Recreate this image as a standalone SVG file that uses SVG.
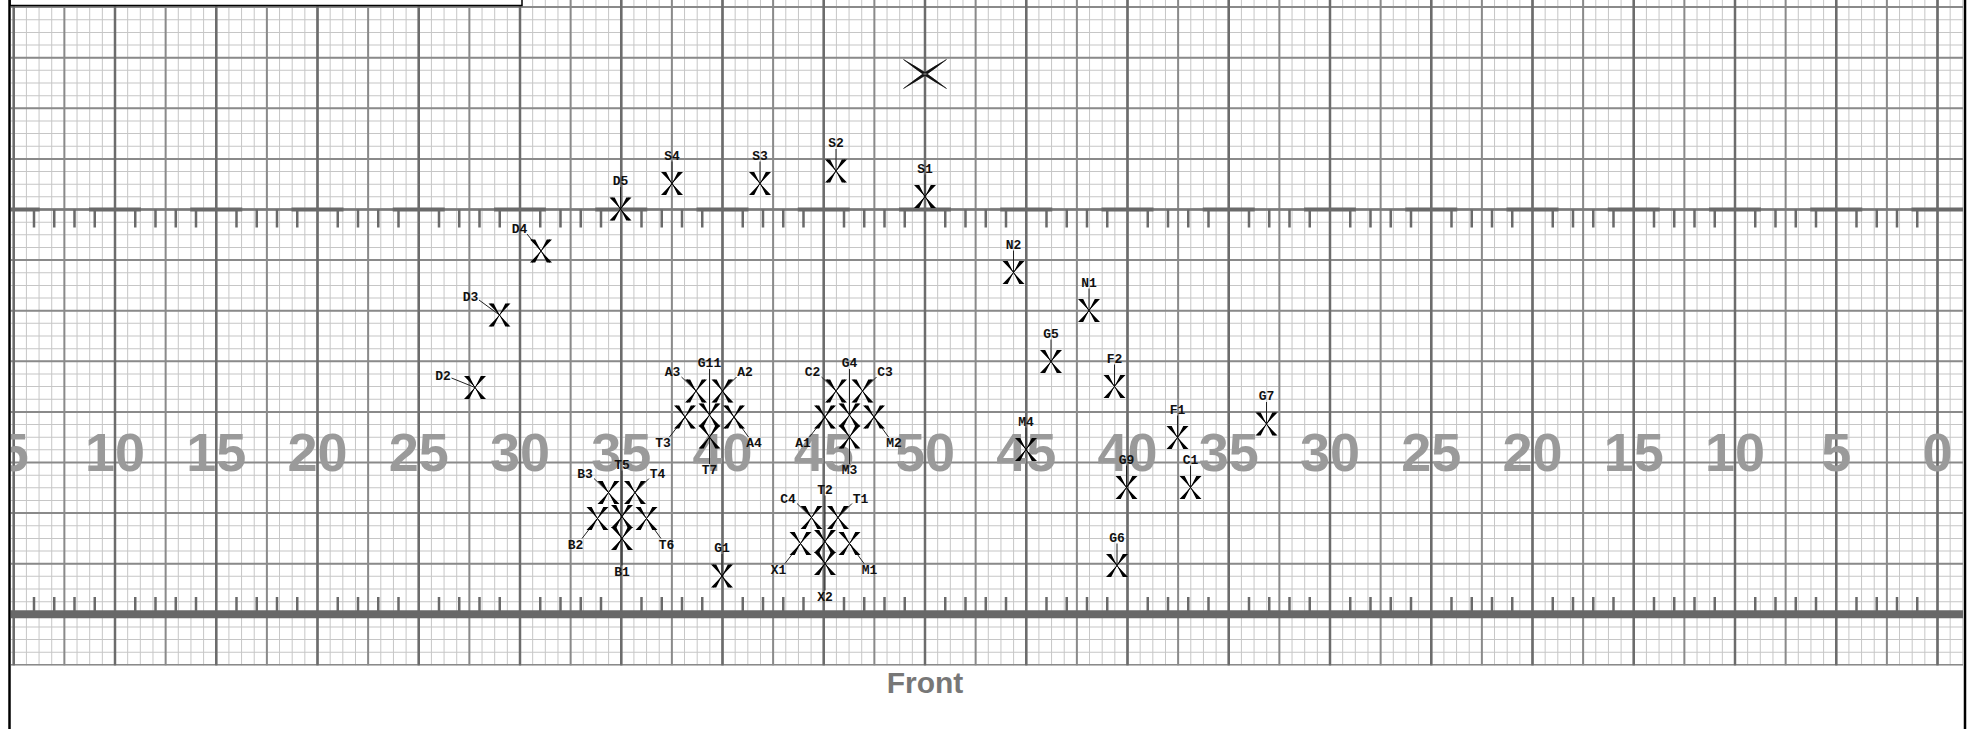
<svg xmlns="http://www.w3.org/2000/svg" xmlns:xlink="http://www.w3.org/1999/xlink" width="1973" height="729" viewBox="0 0 1973 729">
<style>
.lbl{font-family:"Liberation Mono","Courier New",monospace;font-weight:bold;font-size:13px;fill:#111;text-anchor:middle}
.yd{font-family:"Liberation Sans",Arial,sans-serif;font-weight:bold;font-size:54px;fill:#9a9a9a;text-anchor:middle}
.ld{stroke:#222;stroke-width:1;fill:none}
</style>
<defs>
<clipPath id="gc"><rect x="11" y="0" width="1952" height="665.5"/></clipPath>
<g id="xm">
<path d="M0,0L-11,-11.5L-5.8,-11.5ZM0,0L5.8,-11.5L11,-11.5ZM0,0L-11,11.5L-5.8,11.5ZM0,0L5.8,11.5L11,11.5Z" fill="#000"/>
<path d="M-8.4,-11.5L8.4,11.5M8.4,-11.5L-8.4,11.5" stroke="#000" stroke-width="1"/>
</g>
</defs>
<rect width="1973" height="729" fill="#fff"/>
<g id="field" clip-path="url(#gc)">
<line x1="13.25" y1="332.75" x2="1964" y2="332.75" stroke="#c6c6c6" stroke-width="665.5" stroke-dasharray="1 11.65625"/>
<line x1="987" y1="6.6" x2="987" y2="666" stroke="#c6c6c6" stroke-width="1952" stroke-dasharray="1 11.65"/>
<line x1="12.75" y1="332.75" x2="1964" y2="332.75" stroke="#8a8a8a" stroke-width="665.5" stroke-dasharray="2 48.625"/>
<line x1="987" y1="6.1" x2="987" y2="666" stroke="#8a8a8a" stroke-width="1952" stroke-dasharray="2 48.6"/>
<line x1="12.5" y1="332.75" x2="1964" y2="332.75" stroke="#6c6c6c" stroke-width="665.5" stroke-dasharray="2.5 98.75"/>
<line x1="11" y1="209.5" x2="1963" y2="209.5" stroke="#7a7a7a" stroke-width="2.5"/>
<line x1="-12.25" y1="209.5" x2="1963" y2="209.5" stroke="#6a6a6a" stroke-width="4" stroke-dasharray="52 49.25"/>
<line x1="32.75" y1="218.5" x2="1918.5" y2="218.5" stroke="#6a6a6a" stroke-width="18" stroke-dasharray="2.5 17.75 2.5 17.75 2.5 17.75 2.5 38"/>
<line x1="32.75" y1="605.5" x2="1918.5" y2="605.5" stroke="#6a6a6a" stroke-width="17" stroke-dasharray="2.5 17.75 2.5 17.75 2.5 17.75 2.5 38"/>
<line x1="11" y1="614.3" x2="1963" y2="614.3" stroke="#686868" stroke-width="8"/>
<g id="yardnums" class="yd">
<text x="13.75" y="471">5</text><text x="115" y="471">10</text><text x="216.25" y="471">15</text><text x="317.5" y="471">20</text><text x="418.75" y="471">25</text><text x="520" y="471">30</text><text x="621.25" y="471">35</text><text x="722.5" y="471">40</text><text x="823.75" y="471">45</text><text x="925" y="471">50</text><text x="1026.25" y="471">45</text><text x="1127.5" y="471">40</text><text x="1228.75" y="471">35</text><text x="1330" y="471">30</text><text x="1431.25" y="471">25</text><text x="1532.5" y="471">20</text><text x="1633.75" y="471">15</text><text x="1735" y="471">10</text><text x="1836.25" y="471">5</text><text x="1937.5" y="471">0</text>
</g>
</g>
<rect x="10" y="-20" width="512" height="25.5" fill="#fff" stroke="#000" stroke-width="1.5"/>
<line x1="9.5" y1="0" x2="9.5" y2="729" stroke="#000" stroke-width="2.5"/>
<line x1="1965" y1="0" x2="1965" y2="729" stroke="#000" stroke-width="2.5"/>
<text x="925" y="693" font-family="Liberation Sans, Arial, sans-serif" font-weight="bold" font-size="30" fill="#777" text-anchor="middle">Front</text>
<g id="connectors" class="ld">
<path d="M709.5,369V415M681.5,377L696,391M736.5,377L722.5,391M669.5,437L685,417M748.5,437L734,417M709.5,464V437"/>
<path d="M849.5,369V415M821.5,377L836,391M876.5,377L862.5,391M809.5,437L825,417M888.5,437L874,417M849.5,464V437"/>
<path d="M622,470.5V516.5M594,478.5L608.5,492.5M649,478.5L635,492.5M582,538.5L597.5,518.5M661,538.5L646.5,518.5M622,565.5V538.5"/>
<path d="M825,495.5V541.5M797,503.5L811.5,517.5M852,503.5L838,517.5M785,563.5L800.5,543.5M864,563.5L849.5,543.5M825,590.5V563.5"/>
<path d="M925,174.5V196.5M836,149V171M760,161.5V183.5M672,161.5V183.5M620.5,187V209M1013.5,250.5V272.5M1089,288.5V310.5M1051,339.5V361.5M1114.5,364.5V386.5M1026,427.5V449.5M1177.5,415.5V437.5M1266.5,402V424M1126.5,465.5V487.5M1190.5,465.5V487.5M1117,543.5V565.5M722,554V576"/>
<path d="M527,234L541,251M479,300L499.5,315M451.5,378L475,387.5"/>
</g>
<g id="bigx"><path d="M903.5,59.5Q924,76.5 946.5,88.5Q926,71.5 903.5,59.5ZM946.5,59.5Q926,76.5 903.5,88.5Q924,71.5 946.5,59.5Z" fill="#111" stroke="#111" stroke-width="0.6"/></g>
<g id="n-G11"><use href="#xm" x="709.5" y="415"/><text class="lbl" x="709.5" y="367">G11</text></g>
<g id="n-A3"><use href="#xm" x="696" y="391"/><text class="lbl" x="672.5" y="376">A3</text></g>
<g id="n-A2"><use href="#xm" x="722.5" y="391"/><text class="lbl" x="745" y="376">A2</text></g>
<g id="n-T3"><use href="#xm" x="685" y="417"/><text class="lbl" x="663" y="447">T3</text></g>
<g id="n-A4"><use href="#xm" x="734" y="417"/><text class="lbl" x="754" y="447">A4</text></g>
<g id="n-T7"><use href="#xm" x="709.5" y="437"/><text class="lbl" x="709.5" y="474">T7</text></g>
<g id="n-G4"><use href="#xm" x="849.5" y="415"/><text class="lbl" x="849.5" y="367">G4</text></g>
<g id="n-C2"><use href="#xm" x="836" y="391"/><text class="lbl" x="812.5" y="376">C2</text></g>
<g id="n-C3"><use href="#xm" x="862.5" y="391"/><text class="lbl" x="885" y="376">C3</text></g>
<g id="n-A1"><use href="#xm" x="825" y="417"/><text class="lbl" x="803" y="447">A1</text></g>
<g id="n-M2"><use href="#xm" x="874" y="417"/><text class="lbl" x="894" y="447">M2</text></g>
<g id="n-M3"><use href="#xm" x="849.5" y="437"/><text class="lbl" x="849.5" y="474">M3</text></g>
<g id="n-T5"><use href="#xm" x="622" y="516.5"/><text class="lbl" x="622" y="468.5">T5</text></g>
<g id="n-B3"><use href="#xm" x="608.5" y="492.5"/><text class="lbl" x="585" y="477.5">B3</text></g>
<g id="n-T4"><use href="#xm" x="635" y="492.5"/><text class="lbl" x="657.5" y="477.5">T4</text></g>
<g id="n-B2"><use href="#xm" x="597.5" y="518.5"/><text class="lbl" x="575.5" y="548.5">B2</text></g>
<g id="n-T6"><use href="#xm" x="646.5" y="518.5"/><text class="lbl" x="666.5" y="548.5">T6</text></g>
<g id="n-B1"><use href="#xm" x="622" y="538.5"/><text class="lbl" x="622" y="575.5">B1</text></g>
<g id="n-T2"><use href="#xm" x="825" y="541.5"/><text class="lbl" x="825" y="493.5">T2</text></g>
<g id="n-C4"><use href="#xm" x="811.5" y="517.5"/><text class="lbl" x="788" y="502.5">C4</text></g>
<g id="n-T1"><use href="#xm" x="838" y="517.5"/><text class="lbl" x="860.5" y="502.5">T1</text></g>
<g id="n-X1"><use href="#xm" x="800.5" y="543.5"/><text class="lbl" x="778.5" y="573.5">X1</text></g>
<g id="n-M1"><use href="#xm" x="849.5" y="543.5"/><text class="lbl" x="869.5" y="573.5">M1</text></g>
<g id="n-X2"><use href="#xm" x="825" y="563.5"/><text class="lbl" x="825" y="600.5">X2</text></g>
<g id="n-S1"><use href="#xm" x="925" y="196.5"/><text class="lbl" x="925" y="172.5">S1</text></g>
<g id="n-S2"><use href="#xm" x="836" y="171"/><text class="lbl" x="836" y="147">S2</text></g>
<g id="n-S3"><use href="#xm" x="760" y="183.5"/><text class="lbl" x="760" y="159.5">S3</text></g>
<g id="n-S4"><use href="#xm" x="672" y="183.5"/><text class="lbl" x="672" y="159.5">S4</text></g>
<g id="n-D5"><use href="#xm" x="620.5" y="209"/><text class="lbl" x="620.5" y="185">D5</text></g>
<g id="n-N2"><use href="#xm" x="1013.5" y="272.5"/><text class="lbl" x="1013.5" y="248.5">N2</text></g>
<g id="n-N1"><use href="#xm" x="1089" y="310.5"/><text class="lbl" x="1089" y="286.5">N1</text></g>
<g id="n-G5"><use href="#xm" x="1051" y="361.5"/><text class="lbl" x="1051" y="337.5">G5</text></g>
<g id="n-F2"><use href="#xm" x="1114.5" y="386.5"/><text class="lbl" x="1114.5" y="362.5">F2</text></g>
<g id="n-M4"><use href="#xm" x="1026" y="449.5"/><text class="lbl" x="1026" y="425.5">M4</text></g>
<g id="n-F1"><use href="#xm" x="1177.5" y="437.5"/><text class="lbl" x="1177.5" y="413.5">F1</text></g>
<g id="n-G7"><use href="#xm" x="1266.5" y="424"/><text class="lbl" x="1266.5" y="400">G7</text></g>
<g id="n-G9"><use href="#xm" x="1126.5" y="487.5"/><text class="lbl" x="1126.5" y="463.5">G9</text></g>
<g id="n-C1"><use href="#xm" x="1190.5" y="487.5"/><text class="lbl" x="1190.5" y="463.5">C1</text></g>
<g id="n-G6"><use href="#xm" x="1117" y="565.5"/><text class="lbl" x="1117" y="541.5">G6</text></g>
<g id="n-G1"><use href="#xm" x="722" y="576"/><text class="lbl" x="722" y="552">G1</text></g>
<g id="n-D4"><use href="#xm" x="541" y="251"/><text class="lbl" x="519.5" y="233">D4</text></g>
<g id="n-D3"><use href="#xm" x="499.5" y="315"/><text class="lbl" x="470.5" y="300.5">D3</text></g>
<g id="n-D2"><use href="#xm" x="475" y="387.5"/><text class="lbl" x="443" y="380">D2</text></g>
</svg>
